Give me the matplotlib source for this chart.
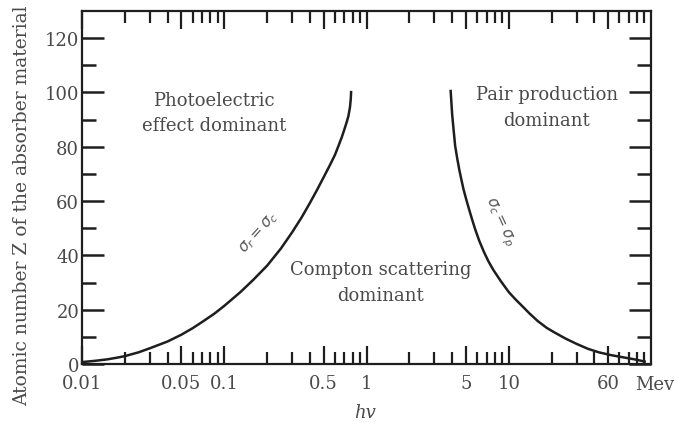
import matplotlib
matplotlib.use("Agg")
import matplotlib.pyplot as plt
from matplotlib.ticker import FixedLocator, NullFormatter

# boundary sigma_r = sigma_c (photoelectric / Compton)
pe_energy = [0.01, 0.0125, 0.015, 0.0175, 0.02, 0.025, 0.03, 0.04, 0.05, 0.06, 0.07, 0.085, 0.1,
             0.13, 0.16, 0.2, 0.25, 0.3, 0.35, 0.4, 0.45, 0.5, 0.55, 0.6, 0.635, 0.67, 0.7,
             0.725, 0.746, 0.765, 0.775, 0.78]
pe_z = [0.7, 1.2, 1.7, 2.3, 2.9, 4.3, 5.8, 8.3, 10.8, 13.2, 15.5, 18.5, 21.4,
        26.5, 31.0, 36.2, 42.5, 48.5, 54.0, 59.3, 64.2, 68.8, 73.0, 77.0, 80.3, 83.5, 86.5,
        89.0, 91.3, 94.5, 97.5, 100.6]

# boundary sigma_c = sigma_p (Compton / pair production)
pp_energy = [3.9, 3.95, 4.0, 4.1, 4.2, 4.35, 4.5, 4.65, 4.8, 5.05, 5.3, 5.55, 5.8, 6.2, 6.7,
             7.2, 7.8, 8.8, 10, 11.2, 12.4, 14, 16, 18.5, 21, 25, 30, 36, 43, 52, 63, 75, 85, 92]
pp_z = [101.0, 96.5, 92.0, 86.0, 80.3, 75.5, 71.3, 67.8, 64.5, 60.2, 56.4, 52.9, 49.7, 45.4, 41.2,
        37.8, 34.6, 30.5, 26.5, 23.7, 21.4, 18.6, 15.8, 13.3, 11.6, 9.4, 7.4, 5.6, 4.3, 3.3, 2.5,
        1.8, 1.2, 0.8]

xtick_pos = [0.01, 0.05, 0.1, 0.5, 1, 5, 10, 50]
xtick_labels = ["0.01", "0.05", "0.1", "0.5", "1", "5", "10", "60"]
ytick_pos = [0, 20, 40, 60, 80, 100, 120]

txt = "#4a4a4a"
ink = "#1e1e1e"

fig = plt.figure(figsize=(6.75, 4.27), dpi=100)
ax = fig.add_axes([82 / 675, 1 - 365 / 427, (651 - 82) / 675, (365 - 12) / 427])

ax.plot(pe_energy, pe_z, color=ink, lw=1.8, solid_capstyle="butt")
ax.plot(pp_energy, pp_z, color=ink, lw=1.8, solid_capstyle="butt")

ax.set_xscale("log")
ax.set_xlim(0.01, 100)
ax.set_ylim(0, 130)

minor_x = [m * d for d in (0.01, 0.1, 1, 10) for m in (2, 3, 4, 6, 7, 8, 9)]
ax.xaxis.set_major_locator(FixedLocator(xtick_pos))
ax.xaxis.set_minor_locator(FixedLocator(minor_x))
ax.set_xticklabels(xtick_labels)
ax.xaxis.set_minor_formatter(NullFormatter())

ax.set_yticks(ytick_pos)
ax.yaxis.set_minor_locator(FixedLocator([10, 30, 50, 70, 90, 110]))

ax.tick_params(axis="x", which="major", direction="in", length=13, width=1.6,
               top=True, bottom=True, color=ink, labelsize=13, labelcolor=txt, pad=7)
ax.tick_params(axis="x", which="minor", direction="in", length=8.5, width=1.6,
               top=True, bottom=True, color=ink)
ax.tick_params(axis="y", which="major", direction="in", length=16, width=1.8,
               left=True, right=True, color=ink, labelsize=13, labelcolor=txt, pad=2)
ax.tick_params(axis="y", which="minor", direction="in", length=10, width=1.8,
               left=True, right=True, color=ink)

for s in ax.spines.values():
    s.set_linewidth(1.6)
    s.set_color(ink)

for lab in ax.get_xticklabels() + ax.get_yticklabels():
    lab.set_family("DejaVu Serif")

fig.text(22 / 675, 1 - 206 / 427, "Atomic number Z of the absorber material",
         rotation=90, ha="center", va="center", fontsize=13.5, color=txt, family="DejaVu Serif")
fig.text(655 / 675, 1 - 385 / 427, "Mev", ha="center", va="center",
         fontsize=13, color=txt, family="DejaVu Serif")
fig.text(365 / 675, 1 - 413 / 427, "hv", ha="center", va="center",
         fontsize=13, color=txt, family="DejaVu Serif", style="italic")

ax.text(0.085, 92.6, "Photoelectric\neffect dominant", ha="center", va="center",
        fontsize=13, color=txt, family="DejaVu Serif", linespacing=1.55)
ax.text(18.5, 94.7, "Pair production\ndominant", ha="center", va="center",
        fontsize=13, color=txt, family="DejaVu Serif", linespacing=1.55)
ax.text(1.26, 30.2, "Compton scattering\ndominant", ha="center", va="center",
        fontsize=13, color=txt, family="DejaVu Serif", linespacing=1.55)

ax.text(0.176, 48.6, r"$\sigma_r = \sigma_c$", ha="center", va="center",
        rotation=48, fontsize=11, color="#5a5a5a")
ax.text(8.5, 52.7, r"$\sigma_c = \sigma_p$", ha="center", va="center",
        rotation=-65, fontsize=11, color="#5a5a5a")

fig.savefig("out.png", dpi=100)
